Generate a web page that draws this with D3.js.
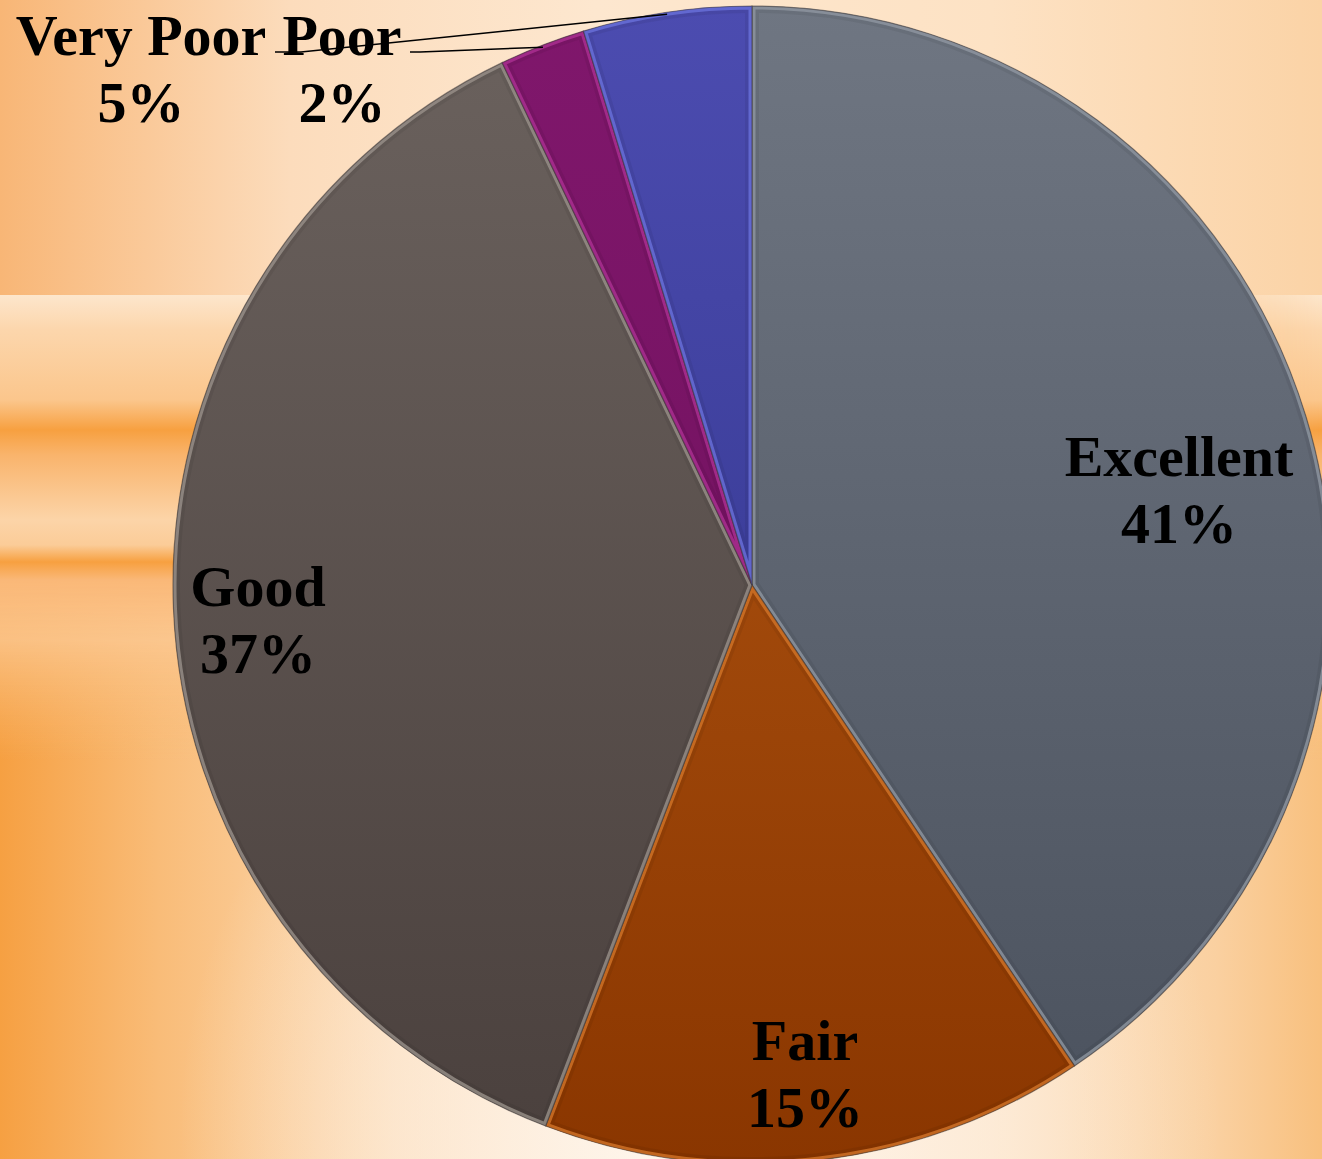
<!DOCTYPE html>
<html>
<head>
<meta charset="utf-8">
<script src="https://cdn.jsdelivr.net/npm/d3@7"></script>
<style>
  html, body { margin: 0; padding: 0; background: #fde8d0; }
  svg { display: block; }
</style>
</head>
<body>
<svg id="chart" width="1322" height="1159"></svg>
<script>
// ---- data ----
var categories = ["Excellent", "Fair", "Good", "Poor", "Very Poor"];
var values = [40.6, 15.2, 37.1, 2.4, 4.7];

// slice colours: top of gradient, bottom of gradient, bevel rim
var topColors = ["#6f7682", "#b85c16", "#6b625e", "#80176c", "#4c4cb0"];
var bottomColors = ["#4a515d", "#8a3600", "#4a403d", "#6a0f58", "#2c3084"];
var rimColors = ["#98a0ab", "#e07c2a", "#a39a92", "#b8339c", "#7078e8"];

var W = 1322, H = 1159;
var cx = 752, cy = 585, R = 579;

var svg = d3.select("#chart");
var defs = svg.append("defs");

function addStops(grad, stops) {
    stops.forEach(function(s) {
        grad.append("stop").attr("offset", s[0]).attr("stop-color", s[1])
            .attr("stop-opacity", s.length > 2 ? s[2] : 1);
    });
}

// ========================================================================
// BACKGROUND
// ========================================================================
var base = defs.append("linearGradient").attr("id", "bgBase")
    .attr("x1", 0).attr("x2", 1).attr("y1", 0).attr("y2", 0);
addStops(base, [[0, "#f6a042"], [0.12, "#f9bc78"], [0.3, "#fcdcb8"], [0.5, "#fdefe0"],
                [0.75, "#fde4c8"], [0.92, "#fad0a0"], [1, "#f8c07e"]]);
svg.append("rect").attr("width", W).attr("height", H).attr("fill", "url(#bgBase)");

// soft glow around the bottom of the pie
var glow = defs.append("radialGradient").attr("id", "glow")
    .attr("gradientUnits", "userSpaceOnUse")
    .attr("cx", 700).attr("cy", 1120).attr("r", 520);
addStops(glow, [[0, "#fff8f0", 0.9], [0.6, "#fdf0e2", 0.5], [1, "#fdf0e2", 0]]);
svg.append("rect").attr("width", W).attr("height", H).attr("fill", "url(#glow)");

// lighter upper band
var topBand = defs.append("linearGradient").attr("id", "topBand")
    .attr("x1", 0).attr("x2", 1).attr("y1", 0).attr("y2", 0);
addStops(topBand, [[0, "#f8b676"], [0.22, "#fcdcbc"], [0.45, "#fde7cf"], [0.75, "#fde2c4"], [1, "#fbd3a6"]]);
svg.append("rect").attr("x", 0).attr("y", 0).attr("width", W).attr("height", 295)
    .attr("fill", "url(#topBand)");

// horizontal streaks on the left and right
var streak = defs.append("linearGradient").attr("id", "streak")
    .attr("gradientUnits", "userSpaceOnUse")
    .attr("x1", 0).attr("x2", 0).attr("y1", 295).attr("y2", 760);
[[295, "#fde6cc", 1], [330, "#fcd6ac", 1], [400, "#fbc68c", 1], [430, "#f7a040", 1], [455, "#f9b46c", 1],
 [520, "#fcd4a8", 1], [545, "#fbcc98", 1], [562, "#f7a040", 1], [580, "#fab878", 1], [640, "#fbc892", 0.8],
 [760, "#f9bc78", 0]]
    .forEach(function(s) {
        streak.append("stop").attr("offset", (s[0] - 295) / 465)
            .attr("stop-color", s[1]).attr("stop-opacity", s[2]);
    });

var fadeL = defs.append("linearGradient").attr("id", "fadeL")
    .attr("gradientUnits", "userSpaceOnUse")
    .attr("x1", 0).attr("x2", 640).attr("y1", 0).attr("y2", 0);
addStops(fadeL, [[0, "#fff"], [0.5, "#fff"], [1, "#000"]]);
defs.append("mask").attr("id", "maskL").append("rect")
    .attr("x", 0).attr("y", 295).attr("width", 640).attr("height", 465).attr("fill", "url(#fadeL)");
svg.append("rect").attr("x", 0).attr("y", 295).attr("width", 640).attr("height", 465)
    .attr("fill", "url(#streak)").attr("mask", "url(#maskL)");

var fadeR = defs.append("linearGradient").attr("id", "fadeR")
    .attr("gradientUnits", "userSpaceOnUse")
    .attr("x1", 1100).attr("x2", W).attr("y1", 0).attr("y2", 0);
addStops(fadeR, [[0, "#000"], [1, "#fff"]]);
defs.append("mask").attr("id", "maskR").append("rect")
    .attr("x", 1100).attr("y", 295).attr("width", 222).attr("height", 465).attr("fill", "url(#fadeR)");
svg.append("rect").attr("x", 1100).attr("y", 295).attr("width", 222).attr("height", 465)
    .attr("fill", "url(#streak)").attr("mask", "url(#maskR)");

// ========================================================================
// PIE
// ========================================================================
var pie = d3.pie().sort(null).value(function(d) { return d; });
var arcs = pie(values);
var arc = d3.arc().innerRadius(0).outerRadius(R);

var g = svg.append("g").attr("transform", "translate(" + cx + "," + cy + ")");

arcs.forEach(function(a, i) {
    var grad = defs.append("linearGradient").attr("id", "slice" + i)
        .attr("gradientUnits", "userSpaceOnUse")
        .attr("x1", 0).attr("x2", 0).attr("y1", -R).attr("y2", R);
    addStops(grad, [[0, topColors[i]], [1, bottomColors[i]]]);

    // clip in the same (translated) space as the slices
    defs.append("clipPath").attr("id", "clip" + i)
        .append("path").attr("d", arc(a));
});

var slices = g.selectAll(".slice").data(arcs).enter().append("g").attr("class", "slice");

slices.append("path")
    .attr("d", arc)
    .attr("fill", function(d, i) { return "url(#slice" + i + ")"; });

// bevel rim: a wide light stroke, clipped so only its inner half shows
slices.append("path")
    .attr("d", arc)
    .attr("fill", "none")
    .attr("stroke", function(d, i) { return rimColors[i]; })
    .attr("stroke-width", 7)
    .attr("stroke-opacity", 0.8)
    .attr("stroke-linejoin", "round")
    .attr("clip-path", function(d, i) { return "url(#clip" + i + ")"; });

// soft inner shade just inside the rim
slices.append("path")
    .attr("d", arc)
    .attr("fill", "none")
    .attr("stroke", "#000")
    .attr("stroke-width", 14)
    .attr("stroke-opacity", 0.06)
    .attr("clip-path", function(d, i) { return "url(#clip" + i + ")"; });

slices.append("path")
    .attr("d", arc)
    .attr("fill", "none")
    .attr("stroke", "#3a3434")
    .attr("stroke-opacity", 0.55)
    .attr("stroke-width", 1.2);

// ========================================================================
// LABELS
// ========================================================================
var fmt = d3.format(".0%");
// label block anchors relative to pie centre (x centre, first baseline)
var labelPos = {
    "Excellent": [427, -109],
    "Fair": [53, 475],
    "Good": [-494, 21],
    "Poor": [-410, -530],
    "Very Poor": [-611, -530]
};

var labels = svg.append("g")
    .attr("font-family", "'Liberation Serif', 'Times New Roman', serif")
    .attr("font-weight", "bold")
    .attr("font-size", 58)
    .attr("fill", "#000")
    .attr("text-anchor", "middle");

arcs.forEach(function(a, i) {
    var p = labelPos[categories[i]];
    var t = labels.append("text")
        .attr("x", cx + p[0]).attr("y", cy + p[1]);
    t.append("tspan").attr("x", cx + p[0]).text(categories[i]);
    t.append("tspan").attr("x", cx + p[0]).attr("dy", 67).text(fmt(values[i] / 100));
});

// leader lines for the two thin slices
var leaders = [
    { idx: 4, pts: [[275, 52], [301, 52]] },
    { idx: 3, pts: [[410, 52], [420, 52]] }
];
leaders.forEach(function(l) {
    var ang = (arcs[l.idx].startAngle + arcs[l.idx].endAngle) / 2;
    var end = [cx + Math.sin(ang) * (R - 2), cy - Math.cos(ang) * (R - 2)];
    svg.append("path")
        .attr("d", d3.line()(l.pts.concat([end])))
        .attr("fill", "none")
        .attr("stroke", "#000")
        .attr("stroke-width", 1.5);
});
</script>
</body>
</html>
